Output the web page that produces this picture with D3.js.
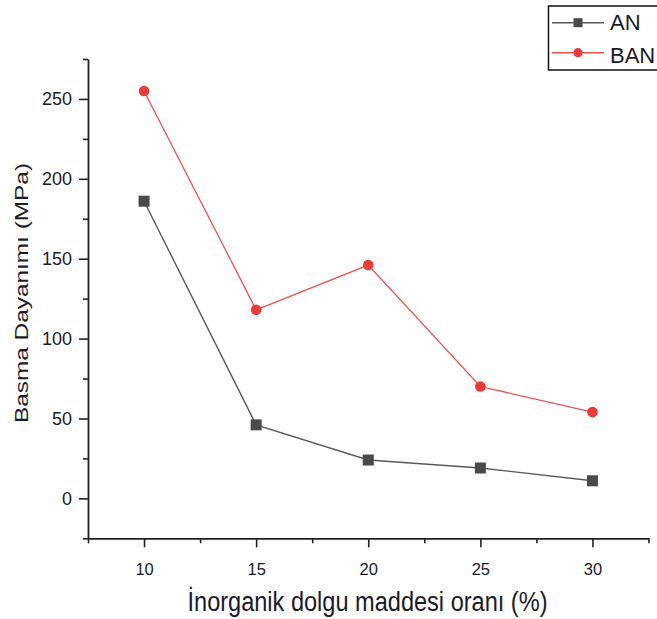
<!DOCTYPE html>
<html>
<head>
<meta charset="utf-8">
<script src="https://cdn.jsdelivr.net/npm/d3@7"></script>
<style>
  html, body { margin: 0; padding: 0; background: #fff; }
  svg { display: block; font-family: "Liberation Sans", Arial, sans-serif; }
</style>
</head>
<body>
<svg id="chart" width="657" height="619"></svg>
<script>
// Filler ratio (%) on the x axis
const fillerRatio = [10, 15, 20, 25, 30];
// Compressive strength (MPa) for each mix
const anValues  = [186, 46, 24, 19, 11];
const banValues = [255, 118, 146, 70, 54];
const seriesNames = ["AN", "BAN"];

const xMajorTicks = [10, 15, 20, 25, 30];
const xMinorTicks = [7.5, 12.5, 17.5, 22.5, 27.5, 32.5];
const yMajorTicks = [0, 50, 100, 150, 200, 250];
const yMinorTicks = [-25, 25, 75, 125, 175, 225, 275];

const xTitle = "İnorganik dolgu maddesi oranı (%)";
const yTitle = "Basma Dayanımı (MPa)";

const svg = d3.select("#chart");

const x = d3.scaleLinear().domain([7.5, 32.5]).range([88, 648.5]);
const y = d3.scaleLinear().domain([-25, 275]).range([538.3, 59]);

const axisColor = "#222";

// Minor ticks
svg.append("g")
  .attr("transform", `translate(0,${y(-25)})`)
  .call(d3.axisBottom(x).tickValues(xMinorTicks).tickSize(5).tickFormat(""))
  .call(g => g.select(".domain").remove())
  .call(g => g.selectAll("line").attr("stroke", axisColor).attr("stroke-width", 1.6));

svg.append("g")
  .attr("transform", `translate(${x(7.5)},0)`)
  .call(d3.axisLeft(y).tickValues(yMinorTicks).tickSize(5).tickFormat(""))
  .call(g => g.select(".domain").remove())
  .call(g => g.selectAll("line").attr("stroke", axisColor).attr("stroke-width", 1.6));

// Major axes
const xAxis = svg.append("g")
  .attr("transform", `translate(0,${y(-25)})`)
  .call(d3.axisBottom(x).tickValues(xMajorTicks).tickSize(9).tickSizeOuter(0).tickPadding(16));
xAxis.select(".domain").attr("stroke", axisColor).attr("stroke-width", 1.8);
xAxis.selectAll("line").attr("stroke", axisColor).attr("stroke-width", 1.6);
xAxis.selectAll("text").attr("fill", "#1a1a2a").attr("font-size", 16.5)
  .attr("font-family", "'Liberation Sans', Arial, sans-serif");

const yAxis = svg.append("g")
  .attr("transform", `translate(${x(7.5)},0)`)
  .call(d3.axisLeft(y).tickValues(yMajorTicks).tickSize(9).tickSizeOuter(0).tickPadding(7));
yAxis.select(".domain").attr("stroke", axisColor).attr("stroke-width", 1.8);
yAxis.selectAll("line").attr("stroke", axisColor).attr("stroke-width", 1.6);
yAxis.selectAll("text").attr("fill", "#1a1a2a").attr("font-size", 18)
  .attr("font-family", "'Liberation Sans', Arial, sans-serif");

// Axis titles
svg.append("text")
  .attr("x", 367.5).attr("y", 611)
  .attr("text-anchor", "middle")
  .attr("font-size", 27)
  .attr("textLength", 360).attr("lengthAdjust", "spacingAndGlyphs")
  .attr("fill", "#1a1a2a")
  .text(xTitle);

svg.append("text")
  .attr("transform", "translate(27.5,293) rotate(-90)")
  .attr("text-anchor", "middle")
  .attr("font-size", 17.5)
  .attr("textLength", 260).attr("lengthAdjust", "spacingAndGlyphs")
  .attr("fill", "#1a1a2a")
  .text(yTitle);

// Series
const line = d3.line().x((d, i) => x(fillerRatio[i])).y(d => y(d));

const anColor = "#4a4a4a", anLine = "#5a5a5a";
const banColor = "#ef3a3a", banLine = "#f55050";

svg.append("path").datum(anValues)
  .attr("d", line).attr("fill", "none")
  .attr("stroke", anLine).attr("stroke-width", 1.4);
svg.append("path").datum(banValues)
  .attr("d", line).attr("fill", "none")
  .attr("stroke", banLine).attr("stroke-width", 1.3);

svg.selectAll("rect.an").data(anValues).join("rect")
  .attr("class", "an")
  .attr("x", (d, i) => x(fillerRatio[i]) - 5.5)
  .attr("y", d => y(d) - 5.5)
  .attr("width", 11).attr("height", 11)
  .attr("fill", anColor);

svg.selectAll("circle.ban").data(banValues).join("circle")
  .attr("class", "ban")
  .attr("cx", (d, i) => x(fillerRatio[i]))
  .attr("cy", d => y(d))
  .attr("r", 5.3)
  .attr("fill", banColor);

// Legend
const legend = svg.append("g");
legend.append("rect")
  .attr("x", 548.5).attr("y", 6).attr("width", 120).attr("height", 64)
  .attr("fill", "#fff").attr("stroke", "#111").attr("stroke-width", 1.5);

const legendRows = [
  { name: seriesNames[0], y: 22.7, color: anLine, marker: "square", fill: anColor, baseline: 30 },
  { name: seriesNames[1], y: 52.7, color: banLine, marker: "circle", fill: banColor, baseline: 63.3 }
];
legendRows.forEach(r => {
  legend.append("line")
    .attr("x1", 552).attr("x2", 604).attr("y1", r.y).attr("y2", r.y)
    .attr("stroke", r.color).attr("stroke-width", 1.4);
  if (r.marker === "square") {
    legend.append("rect")
      .attr("x", 578 - 4.5).attr("y", r.y - 4.5).attr("width", 9).attr("height", 9)
      .attr("fill", r.fill);
  } else {
    legend.append("circle")
      .attr("cx", 578).attr("cy", r.y).attr("r", 4.6).attr("fill", r.fill);
  }
  legend.append("text")
    .attr("x", 610).attr("y", r.baseline)
    .attr("font-size", 22)
    .attr("fill", "#1a1a2a")
    .text(r.name);
});
</script>
</body>
</html>
